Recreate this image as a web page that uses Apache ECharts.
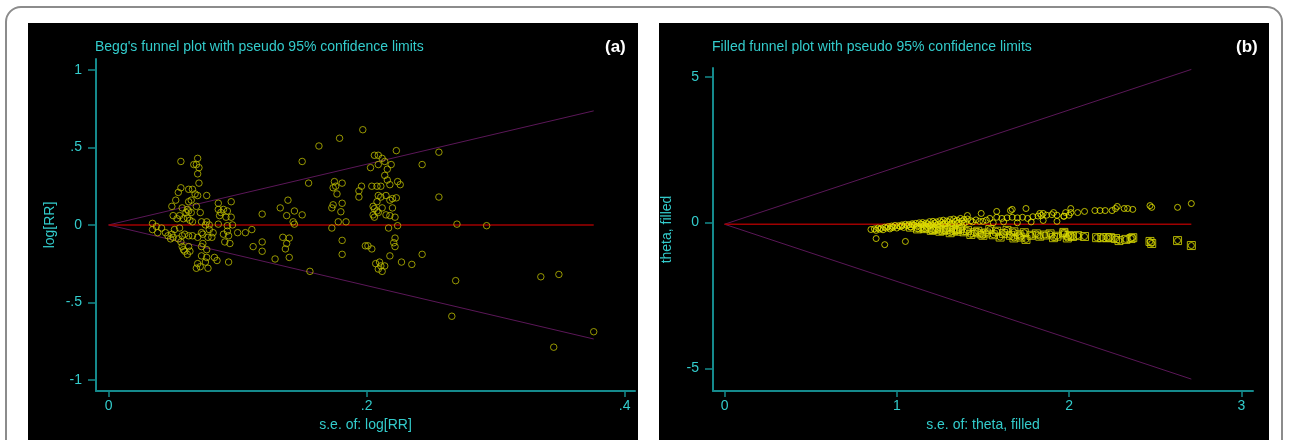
<!DOCTYPE html>
<html>
<head>
<meta charset="utf-8">
<script src="https://cdn.jsdelivr.net/npm/echarts@6/dist/echarts.min.js"></script>
<style>
  html, body { margin: 0; padding: 0; background: #ffffff; }
  #page { position: relative; width: 1290px; height: 440px; overflow: hidden; }
  #frame { position: absolute; left: 5px; top: 6px; width: 1278px; height: 470px;
           border: 2px solid #8c8c8c; border-radius: 16px; box-sizing: border-box; }
  .panel { position: absolute; top: 23px; height: 430px; background: #000; }
  #panelA { left: 28px; width: 610px; }
  #panelB { left: 659px; width: 610px; }
  #chart { position: absolute; left: 0; top: 0; width: 1290px; height: 440px; }
</style>
</head>
<body>
<div id="page">
  <div id="frame"></div>
  <div class="panel" id="panelA"></div>
  <div class="panel" id="panelB"></div>
  <div id="chart"></div>
</div>
<script>
// ---- (a) Begg's funnel plot: [s.e. of log(RR), log(RR)] per study ----
const beggStudies = [
  [0.056,0.41],[0.069,0.43],[0.066,0.39],[0.068,0.39],[0.070,0.37],[0.069,0.33],[0.070,0.27],
  [0.056,0.24],[0.054,0.21],[0.062,0.23],[0.065,0.23],[0.067,0.20],[0.069,0.19],[0.076,0.19],
  [0.052,0.16],[0.064,0.16],[0.062,0.15],[0.049,0.12],[0.057,0.11],[0.061,0.10],[0.062,0.09],
  [0.064,0.08],[0.060,0.08],[0.068,0.12],[0.071,0.08],[0.085,0.14],[0.095,0.15],[0.085,0.10],
  [0.087,0.08],[0.089,0.10],[0.092,0.09],[0.086,0.06],[0.091,0.05],[0.095,0.05],[0.050,0.06],
  [0.053,0.04],[0.055,0.06],[0.058,0.04],[0.061,0.045],[0.063,0.03],[0.065,0.02],[0.072,0.02],
  [0.075,0.0],[0.076,0.02],[0.078,0.0],[0.034,0.01],[0.034,-0.03],[0.037,-0.01],[0.038,-0.05],
  [0.041,-0.02],[0.044,-0.05],[0.046,-0.07],[0.049,-0.06],[0.051,-0.03],[0.055,-0.02],
  [0.048,-0.09],[0.050,-0.08],[0.057,-0.07],[0.059,-0.06],[0.062,-0.07],[0.065,-0.07],
  [0.054,-0.09],[0.056,-0.11],[0.057,-0.14],[0.058,-0.16],[0.059,-0.17],[0.061,-0.19],
  [0.062,-0.14],[0.063,-0.17],[0.069,-0.08],[0.072,-0.05],[0.073,-0.06],[0.077,-0.08],
  [0.080,-0.08],[0.081,-0.05],[0.078,-0.03],[0.089,-0.06],[0.092,-0.04],[0.093,-0.07],
  [0.090,-0.11],[0.094,-0.12],[0.085,0.005],[0.092,-0.005],[0.096,0.0],[0.100,-0.05],
  [0.106,-0.05],[0.111,-0.03],[0.112,-0.14],[0.072,-0.14],[0.073,-0.12],[0.076,-0.16],
  [0.072,-0.20],[0.076,-0.21],[0.075,-0.24],[0.082,-0.21],[0.084,-0.23],[0.093,-0.24],
  [0.068,-0.28],[0.071,-0.27],[0.077,-0.28],[0.069,-0.25],
  [0.156,-0.30],[0.163,0.51],[0.150,0.41],[0.155,0.27],[0.119,0.07],[0.133,0.11],[0.139,0.16],
  [0.144,0.09],[0.138,0.06],[0.150,0.065],[0.143,0.02],[0.144,0.005],[0.119,-0.11],[0.119,-0.17],
  [0.135,-0.08],[0.138,-0.12],[0.137,-0.155],[0.140,-0.085],[0.129,-0.22],[0.140,-0.21],
  [0.197,0.615],[0.179,0.56],[0.175,0.28],[0.181,0.27],[0.176,0.25],[0.174,0.24],[0.177,0.20],
  [0.181,0.14],[0.174,0.13],[0.173,0.11],[0.180,0.085],[0.178,0.02],[0.184,0.02],[0.173,-0.02],
  [0.181,-0.10],[0.181,-0.19],[0.194,0.22],[0.196,0.25],[0.194,0.18],[0.206,0.45],[0.209,0.45],
  [0.212,0.43],[0.214,0.41],[0.209,0.39],[0.203,0.37],[0.219,0.39],[0.216,0.36],[0.214,0.32],
  [0.216,0.29],[0.218,0.26],[0.223,0.48],[0.224,0.28],[0.204,0.25],[0.208,0.25],[0.211,0.25],
  [0.209,0.19],[0.208,0.15],[0.211,0.18],[0.215,0.19],[0.218,0.16],[0.220,0.17],[0.223,0.175],
  [0.205,0.12],[0.206,0.105],[0.205,0.065],[0.206,0.05],[0.209,0.08],[0.212,0.11],[0.215,0.065],
  [0.218,0.06],[0.220,0.11],[0.222,0.05],[0.208,0.09],[0.217,-0.02],[0.224,-0.005],
  [0.199,-0.135],[0.201,-0.135],[0.204,-0.155],[0.222,-0.085],[0.221,-0.115],[0.222,-0.14],
  [0.218,-0.20],[0.207,-0.25],[0.210,-0.24],[0.211,-0.265],[0.214,-0.265],[0.209,-0.285],
  [0.212,-0.30],
  [0.256,0.47],[0.243,0.39],[0.226,0.26],[0.256,0.18],[0.270,0.005],[0.293,-0.005],
  [0.243,-0.19],[0.227,-0.24],[0.235,-0.255],[0.269,-0.36],[0.335,-0.335],[0.349,-0.32],
  [0.266,-0.59],[0.376,-0.69],[0.345,-0.79]
];
const beggTicksX = [0, 0.2, 0.4];
const beggTicksY = [-1, -0.5, 0, 0.5, 1];
const beggPooled = 0;
const beggMaxSE = 0.376;

// ---- (b) Filled funnel plot: [s.e. of theta, theta] ----
const filledObserved = [
  [0.85,-0.24],[0.87,-0.22],[0.89,-0.19],[0.91,-0.20],[0.93,-0.16],[0.95,-0.14],[0.97,-0.12],
  [0.99,-0.10],[1.01,-0.11],[1.03,-0.08],[1.05,-0.06],[1.07,-0.07],[1.09,-0.04],[1.11,-0.03],
  [1.13,-0.01],[1.15,0.00],[1.17,-0.02],[1.19,0.03],[1.21,0.04],[1.23,0.02],[1.25,0.06],
  [1.27,0.08],[1.29,0.05],[1.31,0.10],[1.33,0.12],[1.35,0.08],[1.37,0.14],[1.39,0.10],[1.41,0.12],
  [0.88,-0.27],[0.92,-0.25],[0.96,-0.22],[1.00,-0.19],[1.04,-0.17],[1.08,-0.15],[1.12,-0.13],
  [1.16,-0.10],[1.20,-0.08],[1.24,-0.06],[1.28,-0.04],[1.32,-0.03],[1.36,-0.01],[1.40,0.01],
  [1.44,0.02],[1.48,0.04],
  [0.94,-0.19],[0.98,-0.16],[1.02,-0.14],[1.06,-0.11],[1.10,-0.09],[1.14,-0.06],[1.18,-0.05],
  [1.22,-0.02],[1.26,0.00],[1.30,0.02],[1.34,0.04],[1.38,0.05],
  [0.90,-0.23],[0.97,-0.18],[1.03,-0.12],[1.09,-0.08],[1.15,-0.07],[1.19,-0.11],[1.23,-0.09],
  [1.27,-0.05],[1.31,-0.06],[1.35,-0.04],[1.39,-0.02],[1.43,0.06],[1.46,0.09],[1.52,0.08],
  [1.41,0.24],[1.49,0.31],[1.54,0.14],[1.58,0.18],[1.61,0.14],[1.64,0.16],[1.67,0.18],[1.70,0.16],
  [1.73,0.18],[1.76,0.14],[1.79,0.20],[1.82,0.22],[1.84,0.24],[1.87,0.25],[1.90,0.27],[1.93,0.25],
  [1.97,0.22],[2.00,0.25],
  [1.58,0.38],[1.66,0.41],[1.67,0.45],[1.75,0.48],
  [1.50,0.04],[1.56,-0.01],[1.62,0.02],[1.70,-0.01],[1.78,0.02],[1.85,0.07],[1.93,0.04],
  [1.83,0.31],[1.85,0.31],[1.91,0.34],[2.01,0.48],[2.01,0.34],[2.05,0.34],[2.09,0.38],
  [1.97,0.21],[1.98,0.34],[2.15,0.41],[2.18,0.41],[2.21,0.41],[2.25,0.41],[2.27,0.48],
  [2.28,0.55],[2.32,0.48],[2.34,0.48],[2.37,0.45],[2.47,0.58],[2.48,0.52],[2.63,0.52],[2.71,0.65],
  [0.88,-0.55],[0.93,-0.76],[1.05,-0.65]
];
const filledImputed = [
  [1.08,-0.16],[1.14,-0.18],[1.18,-0.18],[1.20,-0.27],[1.21,-0.24],[1.25,-0.18],[1.25,-0.30],
  [1.29,-0.24],[1.31,-0.18],[1.31,-0.35],[1.33,-0.27],[1.35,-0.24],[1.37,-0.21],[1.39,-0.32],
  [1.41,-0.27],[1.43,-0.41],[1.49,-0.39],[1.50,-0.44],[1.54,-0.24],[1.58,-0.30],[1.60,-0.50],
  [1.64,-0.27],[1.68,-0.32],[1.68,-0.53],[1.74,-0.35],[1.75,-0.58],[1.81,-0.39],[1.83,-0.47],
  [1.89,-0.39],[1.93,-0.47],[1.97,-0.39],[1.97,-0.34],[1.99,-0.53],[2.00,-0.45],[2.02,-0.48],
  [2.05,-0.45],[2.09,-0.48],[2.16,-0.52],[2.19,-0.52],[2.22,-0.52],[2.24,-0.52],[2.27,-0.55],
  [2.29,-0.62],[2.33,-0.58],[2.36,-0.55],[2.37,-0.52],[2.47,-0.65],[2.48,-0.72],[2.63,-0.62],
  [2.71,-0.79],
  [1.12,-0.22],[1.16,-0.21],[1.23,-0.21],[1.27,-0.27],[1.35,-0.30],[1.45,-0.35],[1.47,-0.30],
  [1.52,-0.36],[1.56,-0.42],[1.62,-0.38],[1.66,-0.44],[1.71,-0.42],[1.72,-0.50],[1.78,-0.44],
  [1.86,-0.43],[1.91,-0.52]
];
const filledTicksX = [0, 1, 2, 3];
const filledTicksY = [-5, 0, 5];
const filledPooled = -0.06;
const filledMaxSE = 2.71;

const Z95 = 1.96;   // pseudo 95% confidence limits

const FONT = '"Liberation Sans", Arial, sans-serif';
const CYAN = '#33cccc';
const AXIS = '#158a8c';
const LIMIT = '#5b1758';
const POOLED = '#a00000';

// Stata-style numbers: drop the leading zero (".5", "-.5")
const stataNum = v => String(+v.toFixed(4)).replace(/^(-?)0\./, '$1.');

function funnelLines(pooled, maxSE, xi, yi) {
  const line = (data, color, width) => ({
    type: 'line', xAxisIndex: xi, yAxisIndex: yi, data: data,
    symbol: 'none', silent: true, animation: false,
    lineStyle: { color: color, width: width }, z: 1
  });
  return [
    line([[0, pooled], [maxSE, pooled + Z95 * maxSE]], LIMIT, 1),
    line([[0, pooled], [maxSE, pooled - Z95 * maxSE]], LIMIT, 1),
    line([[0, pooled], [maxSE, pooled]], POOLED, 1.5)
  ];
}

function xAxisDef(grid, min, max, ticks, name) {
  return {
    type: 'value', gridIndex: grid, min: min, max: max, position: 'bottom',
    name: name, nameLocation: 'middle', nameGap: 20,
    nameTextStyle: { color: CYAN, fontSize: 14, fontFamily: FONT },
    splitLine: { show: false },
    axisLine: { show: true, onZero: false, lineStyle: { color: AXIS, width: 2 } },
    axisTick: { show: true, length: 6, customValues: ticks, lineStyle: { color: AXIS, width: 1.5 } },
    axisLabel: { customValues: ticks, formatter: stataNum, color: CYAN, fontSize: 14,
                 fontFamily: FONT, margin: 8 }
  };
}
function yAxisDef(grid, min, max, ticks, name) {
  return {
    type: 'value', gridIndex: grid, min: min, max: max, position: 'left',
    name: name, nameLocation: 'middle', nameGap: 39, nameRotate: 90,
    nameTextStyle: { color: CYAN, fontSize: 14, fontFamily: FONT },
    splitLine: { show: false },
    axisLine: { show: true, onZero: false, lineStyle: { color: AXIS, width: 2 } },
    axisTick: { show: true, length: 8, customValues: ticks, lineStyle: { color: AXIS, width: 1.5 } },
    axisLabel: { customValues: ticks, formatter: stataNum, color: CYAN, fontSize: 14,
                 fontFamily: FONT, margin: 14 }
  };
}

const hollow = (color, w) => ({ color: 'rgba(0,0,0,0)', borderColor: color, borderWidth: w });

const chart = echarts.init(document.getElementById('chart'), null, { renderer: 'canvas' });
chart.setOption({
  backgroundColor: 'transparent',
  animation: false,
  textStyle: { fontFamily: FONT },
  title: [
    { text: "Begg's funnel plot with pseudo 95% confidence limits", left: 95, top: 40, padding: 0,
      textStyle: { color: CYAN, fontSize: 14, fontWeight: 'normal', fontFamily: FONT } },
    { text: '(a)', left: 605, top: 39, padding: 0,
      textStyle: { color: '#ffffff', fontSize: 17, fontWeight: 'bold', fontFamily: FONT } },
    { text: 'Filled funnel plot with pseudo 95% confidence limits', left: 712, top: 40, padding: 0,
      textStyle: { color: CYAN, fontSize: 14, fontWeight: 'normal', fontFamily: FONT } },
    { text: '(b)', left: 1236, top: 39, padding: 0,
      textStyle: { color: '#ffffff', fontSize: 17, fontWeight: 'bold', fontFamily: FONT } }
  ],
  grid: [
    { left: 96, top: 59, width: 539, height: 332, containLabel: false },
    { left: 713, top: 68, width: 540, height: 323, containLabel: false }
  ],
  xAxis: [
    xAxisDef(0, -0.0098, 0.408, beggTicksX, 's.e. of: log[RR]'),
    xAxisDef(1, -0.067, 3.068, filledTicksX, 's.e. of: theta, filled')
  ],
  yAxis: [
    yAxisDef(0, -1.073, 1.072, beggTicksY, 'log[RR]'),
    yAxisDef(1, -5.78, 5.30, filledTicksY, 'theta, filled')
  ],
  series: [
    ...funnelLines(beggPooled, beggMaxSE, 0, 0),
    { type: 'scatter', xAxisIndex: 0, yAxisIndex: 0, data: beggStudies,
      symbol: 'circle', symbolSize: 6.5, itemStyle: hollow('#bcbc00', 1), z: 3 },
    ...funnelLines(filledPooled, filledMaxSE, 1, 1),
    { type: 'scatter', xAxisIndex: 1, yAxisIndex: 1, data: filledObserved.concat(filledImputed),
      symbol: 'circle', symbolSize: 6, itemStyle: hollow('#e6e600', 1), z: 3 },
    { type: 'scatter', xAxisIndex: 1, yAxisIndex: 1, data: filledImputed,
      symbol: 'rect', symbolSize: 8, itemStyle: hollow('#dada00', 1), z: 3 }
  ]
});
</script>
</body>
</html>
